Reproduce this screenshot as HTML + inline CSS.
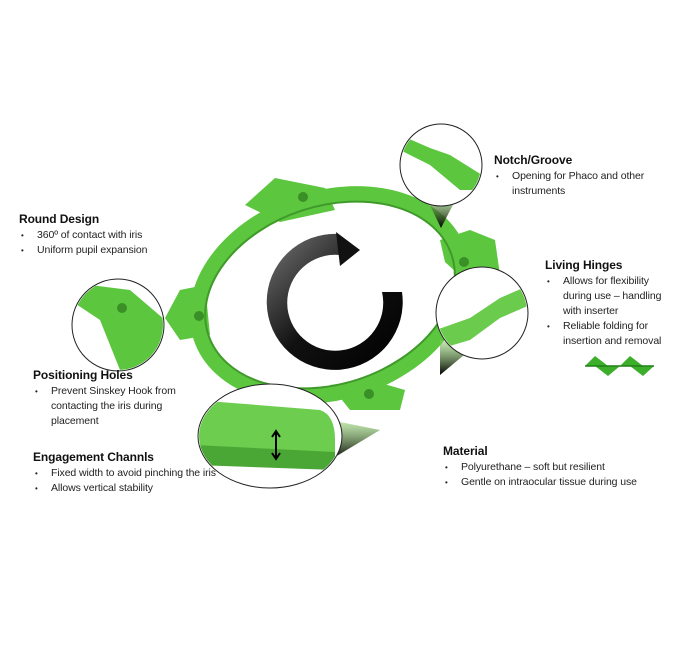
<!DOCTYPE html>
<html><head><style>
body{margin:0;width:683px;height:665px;background:#fff;position:relative;overflow:hidden;font-family:"Liberation Sans",Arial,sans-serif;}
.t{position:absolute;font-size:10.5px;color:#222;line-height:15px;letter-spacing:-0.1px}
.t b{font-size:12px;display:block;margin-bottom:1px;color:#111}
.t ul{margin:0;padding:0 0 0 18px;list-style:none}
.t li{position:relative}
.t li:before{content:"•";position:absolute;left:-16px;font-size:8px}
</style></head><body>
<svg width="683" height="665" style="position:absolute;left:0;top:0">
<defs>
<linearGradient id="cone" x1="0" y1="0" x2="0" y2="1"><stop offset="0" stop-color="#8fd66a" stop-opacity="0.5"/><stop offset="1" stop-color="#000"/></linearGradient>
<linearGradient id="arr" x1="0" y1="0" x2="1" y2="1"><stop offset="0" stop-color="#777"/><stop offset="0.5" stop-color="#111"/><stop offset="1" stop-color="#000"/></linearGradient>
</defs>
<g fill="#5cc63f">
<polygon points="245,205 275,178 325,188 335,210 280,222"/>
<polygon points="440,240 470,230 495,240 500,275 470,285 445,262"/>
<polygon points="330,385 370,380 405,390 400,410 350,410"/>
<polygon points="165,318 180,290 205,285 210,335 180,340"/>
</g>
<ellipse cx="330" cy="295" rx="136" ry="97" transform="rotate(-18 330 295)" fill="none" stroke="#5cc63f" stroke-width="15"/>
<ellipse cx="330" cy="295" rx="128" ry="89" transform="rotate(-18 330 295)" fill="none" stroke="#3f9a2a" stroke-width="2"/>
<circle cx="303" cy="197" r="5" fill="#3a8f27"/>
<circle cx="464" cy="262" r="5" fill="#3a8f27"/>
<circle cx="369" cy="394" r="5" fill="#3a8f27"/>
<circle cx="199" cy="316" r="5" fill="#3a8f27"/>
<path d="M402,292 A68,68 0 1,1 338,234 L340,255 A48,48 0 1,0 382,292 Z" fill="url(#arr)"/>
<path d="M336,232 L360,250 L340,266 Z" fill="#111"/>
<polygon points="425,195 458,195 441,228" fill="url(#cone)"/>
<polygon points="440,340 470,350 440,375" fill="url(#cone)"/>
<polygon points="330,420 380,430 330,460" fill="url(#cone)"/>
<g stroke="#222" stroke-width="1">
<circle cx="441" cy="165" r="41" fill="#fff"/>
<circle cx="118" cy="325" r="46" fill="#fff"/>
<circle cx="482" cy="313" r="46" fill="#fff"/>
<ellipse cx="270" cy="436" rx="72" ry="52" fill="#fff"/>
</g>
<clipPath id="c1"><circle cx="441" cy="165" r="40"/></clipPath>
<path clip-path="url(#c1)" d="M400,135 L430,148 L450,155 L482,175 L482,190 L460,190 L430,165 L400,150 Z" fill="#5cc63f"/>
<clipPath id="c2"><circle cx="118" cy="325" r="45"/></clipPath>
<path clip-path="url(#c2)" d="M90,285 L130,290 L165,320 L165,370 L120,370 L100,320 L70,300 Z" fill="#5cc63f"/>
<circle cx="122" cy="308" r="5" fill="#3a8f27"/>
<clipPath id="c3"><circle cx="482" cy="313" r="45"/></clipPath>
<path clip-path="url(#c3)" d="M436,330 L470,318 L500,298 L530,285 L530,305 L500,318 L470,340 L436,350 Z" fill="#6acb4c"/>
<clipPath id="c4"><ellipse cx="270" cy="436" rx="71" ry="51"/></clipPath>
<path clip-path="url(#c4)" d="M195,400 L320,410 Q335,415 335,440 L335,460 L195,460 Z" fill="#6ccd4f"/>
<path clip-path="url(#c4)" d="M195,445 L335,452 L335,470 L195,465 Z" fill="#4aa735"/>
<path d="M276,433 L276,457 M272,437 L276,431 L280,437 M272,453 L276,459 L280,453" stroke="#000" stroke-width="2" fill="none"/>
<path d="M585,366 L595,356 L608,366 L620,366 L630,356 L643,366 L654,366 L643,376 L630,366 L620,366 L608,376 L595,366 Z" fill="#3dae2a"/>
<line x1="585" y1="366" x2="654" y2="366" stroke="#1f7f17" stroke-width="1.5"/>
</svg>
<div class="t" style="left:494px;top:153px;width:170px"><b>Notch/Groove</b><ul><li>Opening for Phaco and other instruments</li></ul></div>
<div class="t" style="left:19px;top:212px;width:180px"><b>Round Design</b><ul><li>360º of contact with iris</li><li>Uniform pupil expansion</li></ul></div>
<div class="t" style="left:545px;top:258px;width:125px"><b>Living Hinges</b><ul><li>Allows for flexibility during use – handling with inserter</li><li>Reliable folding for insertion and removal</li></ul></div>
<div class="t" style="left:33px;top:368px;width:150px"><b>Positioning Holes</b><ul><li>Prevent Sinskey Hook from contacting the iris during placement</li></ul></div>
<div class="t" style="left:33px;top:450px;width:200px"><b>Engagement Channls</b><ul><li>Fixed width to avoid pinching the iris</li><li>Allows vertical stability</li></ul></div>
<div class="t" style="left:443px;top:444px;width:230px"><b>Material</b><ul><li>Polyurethane – soft but resilient</li><li>Gentle on intraocular tissue during use</li></ul></div>
</body></html>
